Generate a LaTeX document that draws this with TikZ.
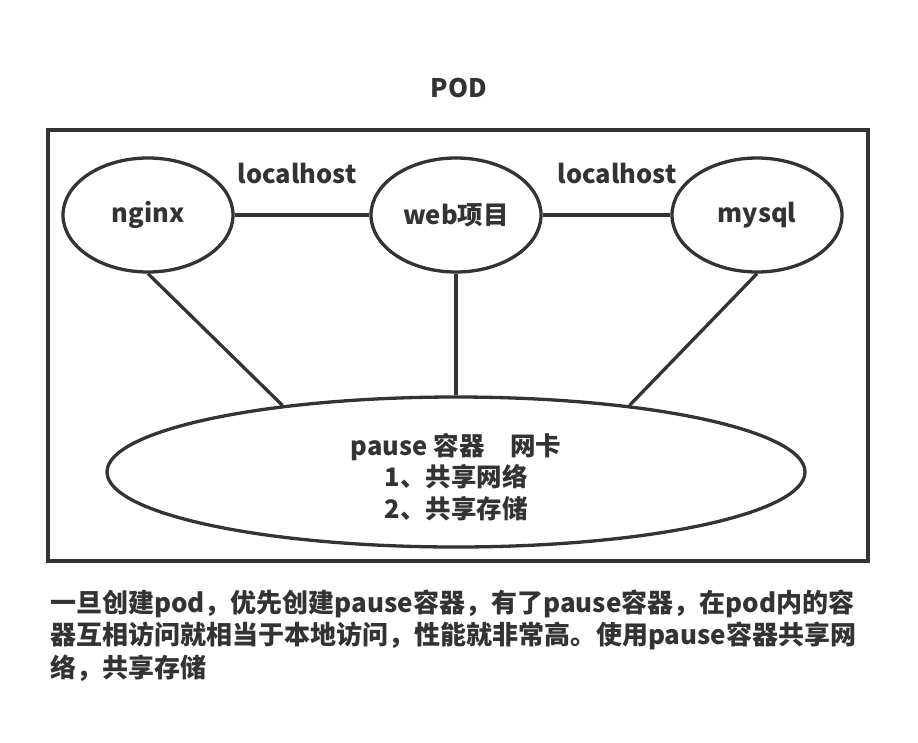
\documentclass[tikz,border=0pt]{standalone}
\usepackage{fontspec}
\setmainfont{Noto Sans CJK SC}
\usetikzlibrary{shapes.geometric}
\definecolor{ink}{HTML}{333333}
\begin{document}
\begin{tikzpicture}[x=1pt,y=-1pt,
  every node/.style={text=ink,font=\fontsize{25.5}{31.5}\selectfont\bfseries},
  pod/.style={draw=ink,line width=3.3pt,ellipse,minimum width=170pt,minimum height=114pt,inner sep=0pt},
  link/.style={draw=ink,line width=3.3pt},
  note/.style={anchor=west,inner sep=0pt,font=\fontsize{26}{32}\selectfont\bfseries}]
\useasboundingbox[fill=white] (0,0) rectangle (918,742);
\node (title) at (459,88) {POD};
\draw[draw=ink,line width=4pt] (48,130) rectangle (868,561);
\node[pod] (nginx) at (148,215) {nginx};
\node[pod] (web) at (456,215) {web项目};
\node[pod] (mysql) at (757,215) {mysql};
\node[draw=ink,line width=3.3pt,ellipse,minimum width=698pt,minimum height=150pt,inner sep=0pt,align=center] (pause) at (456,472) {\rule{0pt}{32pt}pause 容器\hspace{1em}网卡\\1、共享网络\\2、共享存储};
\node (lh1) at (297,173) {localhost};
\node (lh2) at (617,173) {localhost};
\draw[link] (nginx) -- (web);
\draw[link] (web) -- (mysql);
\draw[link] (nginx.south) -- (pause.159.7);
\draw[link] (web.south) -- (pause.north);
\draw[link] (mysql.south) -- (pause.21.6);
\node[note] (n1) at (50,604) {一旦创建pod，优先创建pause容器，有了pause容器，在pod内的容};
\node[note] (n2) at (50,636) {器互相访问就相当于本地访问，性能就非常高。使用pause容器共享网};
\node[note] (n3) at (50,668) {络，共享存储};
\end{tikzpicture}
\end{document}
